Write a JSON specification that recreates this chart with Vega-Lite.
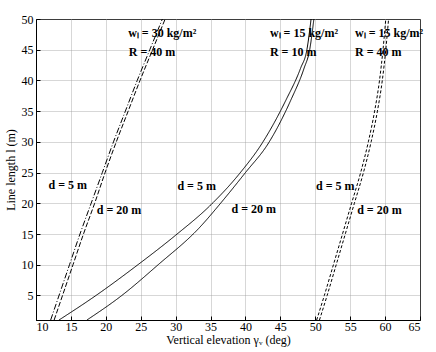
{
  "$schema": "https://vega.github.io/schema/vega-lite/v6.json",
  "autosize": {"type": "none"},
  "width": 384,
  "height": 301,
  "padding": {"left": 36, "top": 19, "right": 16, "bottom": 32},
  "background": "white",
  "config": {
    "font": "Liberation Serif",
    "view": {"stroke": "black", "strokeWidth": 1},
    "axis": {
      "labelFont": "Liberation Serif", "labelFontSize": 12, "labelColor": "black", "labelOverlap": false,
      "titleFont": "Liberation Serif", "titleFontSize": 12, "titleFontWeight": "normal", "titleColor": "black",
      "domainColor": "black", "tickColor": "black",
      "gridColor": "#999999", "gridDash": [1, 1], "gridWidth": 0.8, "gridOpacity": 1
    }
  },
  "datasets": {
    "curves": [
      {"s": "a5", "x": 12.1, "y": 1}, {"s": "a5", "x": 14.8, "y": 10}, {"s": "a5", "x": 16.3, "y": 15}, {"s": "a5", "x": 17.9, "y": 20}, {"s": "a5", "x": 19.5, "y": 25}, {"s": "a5", "x": 21.1, "y": 30}, {"s": "a5", "x": 22.8, "y": 35}, {"s": "a5", "x": 24.5, "y": 40}, {"s": "a5", "x": 26.3, "y": 45}, {"s": "a5", "x": 28.1, "y": 50},
      {"s": "a20", "x": 12.6, "y": 1}, {"s": "a20", "x": 15.3, "y": 10}, {"s": "a20", "x": 16.8, "y": 15}, {"s": "a20", "x": 18.4, "y": 20}, {"s": "a20", "x": 19.9, "y": 25}, {"s": "a20", "x": 21.5, "y": 30}, {"s": "a20", "x": 23.2, "y": 35}, {"s": "a20", "x": 24.9, "y": 40}, {"s": "a20", "x": 26.7, "y": 45}, {"s": "a20", "x": 28.5, "y": 50},
      {"s": "b5", "x": 13.3, "y": 1}, {"s": "b5", "x": 18.6, "y": 5}, {"s": "b5", "x": 24.6, "y": 10}, {"s": "b5", "x": 30.0, "y": 14.8}, {"s": "b5", "x": 35.0, "y": 19.7}, {"s": "b5", "x": 39.2, "y": 24.9}, {"s": "b5", "x": 42.4, "y": 29.8}, {"s": "b5", "x": 45.8, "y": 36.8}, {"s": "b5", "x": 47.9, "y": 42}, {"s": "b5", "x": 48.8, "y": 45}, {"s": "b5", "x": 49.4, "y": 50},
      {"s": "b20", "x": 17.3, "y": 1}, {"s": "b20", "x": 22.3, "y": 5}, {"s": "b20", "x": 27.5, "y": 10}, {"s": "b20", "x": 33.3, "y": 15.9}, {"s": "b20", "x": 36.8, "y": 20.5}, {"s": "b20", "x": 40.0, "y": 25}, {"s": "b20", "x": 43.3, "y": 29.8}, {"s": "b20", "x": 46.5, "y": 36.8}, {"s": "b20", "x": 48.4, "y": 42}, {"s": "b20", "x": 49.2, "y": 45}, {"s": "b20", "x": 49.8, "y": 50},
      {"s": "c5", "x": 50.2, "y": 1}, {"s": "c5", "x": 51.3, "y": 5}, {"s": "c5", "x": 52.6, "y": 10}, {"s": "c5", "x": 53.9, "y": 15}, {"s": "c5", "x": 55.2, "y": 20}, {"s": "c5", "x": 56.5, "y": 25}, {"s": "c5", "x": 57.6, "y": 30}, {"s": "c5", "x": 58.5, "y": 35}, {"s": "c5", "x": 59.2, "y": 40}, {"s": "c5", "x": 59.7, "y": 45}, {"s": "c5", "x": 60.1, "y": 50},
      {"s": "c20", "x": 50.6, "y": 1}, {"s": "c20", "x": 51.7, "y": 5}, {"s": "c20", "x": 53.0, "y": 10}, {"s": "c20", "x": 54.3, "y": 15}, {"s": "c20", "x": 55.6, "y": 20}, {"s": "c20", "x": 56.9, "y": 25}, {"s": "c20", "x": 58.0, "y": 30}, {"s": "c20", "x": 58.9, "y": 35}, {"s": "c20", "x": 59.6, "y": 40}, {"s": "c20", "x": 60.1, "y": 45}, {"s": "c20", "x": 60.5, "y": 50}
    ],
    "labels": [
      {"t": "wₗ = 30 kg/m²", "x": 23.2, "y": 47.8},
      {"t": "R = 40 m", "x": 23.3, "y": 44.6},
      {"t": "wₗ = 15 kg/m²", "x": 43.5, "y": 47.8},
      {"t": "R = 10 m", "x": 43.5, "y": 44.7},
      {"t": "wₗ = 15 kg/m²", "x": 55.7, "y": 47.8},
      {"t": "R = 40 m", "x": 55.7, "y": 44.7},
      {"t": "d = 5 m", "x": 11.8, "y": 23.0},
      {"t": "d = 20 m", "x": 18.7, "y": 18.9},
      {"t": "d = 5 m", "x": 30.25, "y": 22.8},
      {"t": "d = 20 m", "x": 38.0, "y": 19.0},
      {"t": "d = 5 m", "x": 50.1, "y": 22.8},
      {"t": "d = 20 m", "x": 56.0, "y": 18.9}
    ]
  },
  "encoding": {
    "x": {"field": "x", "type": "quantitative", "scale": {"domain": [10, 65], "nice": false, "zero": false},
          "axis": {"values": [10, 15, 20, 25, 30, 35, 40, 45, 50, 55, 60, 65], "title": "Vertical elevation γᵥ (deg)", "titlePadding": 2, "labelPadding": 5, "tickSize": -4, "grid": true}},
    "y": {"field": "y", "type": "quantitative", "scale": {"domain": [1, 50], "nice": false, "zero": false},
          "axis": {"values": [5, 10, 15, 20, 25, 30, 35, 40, 45, 50], "title": "Line length l (m)", "titlePadding": 4, "labelPadding": 7, "tickSize": -4, "grid": true}}
  },
  "layer": [
    {
      "data": {"name": "curves"},
      "mark": {"type": "line", "color": "black", "strokeWidth": 1, "clip": true, "interpolate": "monotone"},
      "encoding": {
        "detail": {"field": "s"},
        "order": {"field": "y", "type": "quantitative"},
        "strokeDash": {"field": "s", "type": "nominal", "legend": null,
          "scale": {"domain": ["a5", "a20", "b5", "b20", "c5", "c20"], "range": [[6, 2, 1, 2], [5, 2], [1, 0], [1, 0], [3, 2], [3, 2]]}}
      }
    },
    {
      "data": {"name": "labels"},
      "mark": {"type": "text", "align": "left", "baseline": "middle", "fontWeight": "bold", "fontSize": 12, "font": "Liberation Serif", "color": "black"},
      "encoding": {
        "text": {"field": "t"}
      }
    }
  ]
}
